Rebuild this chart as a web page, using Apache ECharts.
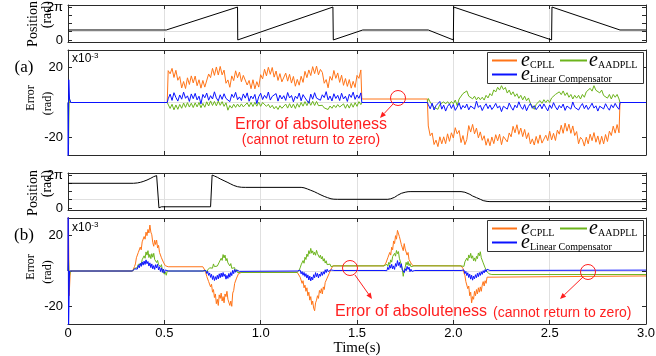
<!DOCTYPE html>
<html><head><meta charset="utf-8">
<script src="https://cdn.jsdelivr.net/npm/echarts@6/dist/echarts.min.js"></script>
<style>html,body{margin:0;padding:0;background:#fff}#c{width:656px;height:356px}</style>
</head><body><div id="c"></div>
<script>
const PI = Math.PI;
// ---------- axis ticks / labels ----------
const xTickValues = [0, 0.5, 1, 1.5, 2, 2.5, 3];
const posTickValues = [0, PI / 2, PI, 1.5 * PI, 2 * PI];
const posLabelValues = [0, 2 * PI];
const errTickValues = [-20, 0, 20];
const errLabelValues = [-20, 20];
const legendNames = ['CPLL', 'AADPLL', 'Linear Compensator'];

// ---------- position traces (rad) ----------
const posA = [[0,1.9],[0.51,1.9],[0.88,6.283],[0.881,0],[1.375,6.283],[1.377,0],[1.53,1.9],[1.87,1.9],[2.0,0],[2.002,6.283],[2.51,0],[2.512,6.283],[2.865,1.9],[3,1.9]];
const posB = [[0,4.71],[0.34,4.71],[0.36,4.78],[0.375,4.89],[0.39,5.05],[0.41,5.33],[0.43,5.68],[0.444,5.97],[0.46,6.18],[0.47,6.283],[0.472,0.02],[0.478,0.05],[0.485,0.22],[0.74,0.22],[0.744,0.02],[0.748,6.283],[0.76,6.1],[0.776,5.84],[0.79,5.55],[0.81,5.2],[0.83,4.85],[0.845,4.57],[0.86,4.3],[0.88,4.06],[0.90,3.95],[0.92,3.93],[1.21,3.93],[1.225,3.85],[1.243,3.62],[1.26,3.37],[1.278,3.11],[1.295,2.8],[1.313,2.48],[1.33,2.2],[1.347,1.97],[1.365,1.75],[1.38,1.67],[1.40,1.65],[1.66,1.65],[1.675,1.75],[1.695,2.03],[1.71,2.4],[1.73,2.79],[1.75,3.0],[1.765,3.1],[1.78,3.12],[2.04,3.12],[2.06,3.0],[2.086,2.6],[2.10,2.28],[2.12,1.97],[2.14,1.65],[2.155,1.40],[2.175,1.25],[2.19,1.21],[3,1.21]];

// ---------- error (a), x1e-3 rad: key points + noisy runs ----------
const aCpllKeys = [[0,0],[0.515,0],[1.525,2],[1.865,2],[2.865,0],[3,0]];
const aAadKeys = [[0,0],[0.003,-24],[0.006,3],[0.012,0],[0.515,0],[1.525,0],[1.865,0],[2.865,0],[3,0]];
const aLcKeys = [[0,0],[0.001,-32],[0.004,13],[0.008,2],[0.015,0],[0.515,0],[1.525,0],[1.865,0],[2.865,0],[3,0]];
// run 1: t = 0.52 .. 1.52 (step 0.01)
const aCpll1 = [18.2,16.4,19.5,14.3,18.4,12.7,14.8,8.3,12.0,8.0,14.1,10.3,15.2,11.2,15.1,9.6,13.0,8.2,12.6,8.8,9.9,16.3,14.2,19.5,15.5,20.3,15.7,20.6,15.8,18.5,11.0,12.9,8.7,15.2,12.5,18.1,14.1,17.4,11.9,15.5,14.7,10.0,12.6,7.9,13.0,7.8,11.9,8.8,15.9,13.5,19.0,15.2,20.1,16.1,20.0,14.5,18.0,12.6,16.5,11.8,11.9,16.8,12.2,16.1,11.1,14.9,9.3,13.2,9.9,15.0,11.5,17.8,14.2,18.6,15.4,20.5,16.5,20.8,15.8,18.9,17.2,11.0,13.1,8.4,14.9,12.7,18.3,13.8,16.9,11.5,15.6,9.8,13.7,9.2,13.1,8.2,12.1,8.6,15.5,13.8,18.6];
const aAad1 = [-0.2,-3.4,-1.0,-4.2,-1.4,-3.9,-1.1,-3.3,-0.3,-2.8,-0.1,-2.6,-0.4,-2.9,-0.2,-2.5,0.0,-3.0,-0.5,-2.7,0.4,-2.0,0.9,-1.7,0.6,-1.9,0.8,-1.6,0.5,-2.2,-0.2,-4.4,-1.7,-3.2,-1.0,-2.8,-0.9,-2.6,-0.8,-2.5,-2.5,-0.2,-2.4,0.0,-2.3,0.1,-2.1,0.2,-2.2,0.0,-0.6,-2.2,-1.0,-3.0,-1.6,-3.6,-2.2,-4.0,-1.8,-3.3,-3.5,-0.9,-3.2,-0.7,-3.1,-0.9,-3.4,-0.6,-2.7,0.0,-2.1,0.5,-1.8,0.8,-1.6,0.7,-1.7,0.6,-1.8,-0.7,-1.6,-3.1,-2.3,-4.0,-2.0,-3.3,-1.5,-2.9,-1.2,-2.6,-3.0,-0.8,-3.3,-1.0,-3.2,-0.5,-2.7,-0.1,-2.2,0.5,-1.2];
const aLc1 = [2.1,4.8,1.2,5.6,2.9,0.8,4.3,1.9,5.9,2.4,3.8,0.6,4.9,2.2,5.2,1.5,3.6,-0.8,4.6,2.7,5.4,1.3,3.9,2.0,6.1,2.6,0.9,4.4,1.8,5.0,2.3,3.4,0.5,4.7,2.8,5.8,1.6,3.2,1.1,4.9,2.5,5.5,0.7,3.7,2.1,4.6,-0.6,3.3,5.3,1.7,4.1,2.4,6.0,1.4,3.5,2.9,5.1,0.8,4.2,2.0,3.9,1.2,5.7,2.6,4.0,0.4,3.6,2.2,5.4,1.0,4.5,2.7,3.3,-0.4,4.8,1.9,5.6,2.5,3.1,1.3,4.4,2.8,6.2,1.5,3.7,0.9,5.0,2.3,4.1,1.1,5.3,2.0,3.6,0.6,4.7,2.9,5.9,1.8,4.3,2.4,5.5];
// run 2: t = 1.87 .. 2.86 (step 0.01)
const aCpll2 = [-13.4,-19.0,-17.4,-24.0,-21.5,-25.2,-19.6,-23.6,-19.6,-23.5,-17.9,-22.2,-17.3,-20.3,-14.4,-17.9,-16.0,-22.9,-18.9,-24.1,-21.1,-13.2,-16.9,-12.5,-17.9,-14.6,-20.2,-16.8,-21.6,-19.0,-24.4,-20.6,-24.7,-19.7,-23.5,-18.4,-21.9,-18.1,-24.1,-19.4,-19.3,-22.5,-17.4,-19.6,-13.6,-17.3,-12.7,-18.2,-14.6,-19.5,-15.4,-20.7,-17.3,-23.7,-20.8,-24.3,-19.4,-23.4,-18.5,-23.2,-23.5,-18.7,-21.8,-16.4,-21.4,-17.6,-21.7,-15.8,-18.1,-13.0,-17.6,-11.8,-16.4,-12.4,-17.6,-13.4,-18.9,-16.6,-23.6,-19.9,-21.2,-24.9,-19.8,-23.6,-18.1,-21.8,-17.2,-22.7,-19.1,-23.9,-19.3,-23.7,-18.3,-22.3,-16.4,-18.9,-13.5,-17.5,-12.6,-17.3];
const aAad2 = [2.3,0.2,0.9,-2.8,-2.7,-3.9,-1.1,-1.9,0.4,-0.8,0.5,-0.9,0.6,-0.7,1.4,-1.8,2.0,1.6,5.1,4.0,6.6,3.6,4.4,2.1,3.6,1.5,3.1,1.6,3.0,1.4,4.1,2.6,5.1,3.9,7.2,6.0,8.7,7.1,9.6,7.4,8.6,5.4,7.1,4.4,6.1,3.5,5.0,2.4,4.1,1.5,3.6,1.0,2.6,-0.5,0.1,-3.9,-1.0,-1.5,1.1,-0.5,1.6,0.0,1.5,0.0,2.6,1.5,4.6,3.5,6.1,4.5,6.6,4.0,5.6,3.0,4.6,2.0,4.1,2.5,4.1,2.0,4.6,3.0,6.1,5.0,8.1,6.5,9.6,7.0,8.1,5.5,7.1,4.0,5.1,2.5,4.6,2.0,4.6,3.0,4.6,2.0];
const aLc2 = [-1.2,-3.6,-0.4,-4.3,-1.8,-2.9,0.6,-3.8,-1.5,-4.9,-2.2,-0.8,-3.4,-1.1,-4.5,-2.6,-0.2,-3.9,-1.7,-3.1,-0.9,-4.2,-2.0,-1.3,-3.7,0.8,-2.8,-1.6,-4.6,-2.3,-0.7,-3.5,-1.4,-4.0,-2.5,-0.5,-3.2,-1.9,-5.2,-2.1,-1.0,-3.8,-0.3,-2.7,-4.4,-1.5,-3.0,0.4,-2.4,-3.9,-1.2,-4.7,-2.2,-0.6,-3.3,-1.8,-4.1,-2.6,-1.1,-3.6,-0.8,-2.9,-4.8,-1.4,-3.4,-0.1,-2.5,-4.2,-1.7,-3.1,-0.9,-4.5,-2.0,-1.3,-3.8,0.3,-2.7,-1.6,-4.3,-2.2,-0.6,-3.5,-1.5,-4.0,-2.4,-0.4,-3.2,-1.9,-4.9,-2.1,-1.0,-3.7,-0.7,-2.8,-4.4,-1.3,-3.0,-0.5,-2.6,-3.9];

// ---------- error (b), x1e-3 rad ----------
const bCpllKeys = [[0,0],[0.002,32],[0.006,-14],[0.012,0],[0.335,0],[0.52,2.4],[0.70,2.4],[0.90,-0.8],[1.19,-0.8],[1.38,2.9],[1.64,2.9],[1.80,2.9],[2.04,2.9],[2.20,-2.8],[3,-2.8]];
const bAadKeys = [[0,0],[0.003,6],[0.006,-4],[0.012,0],[0.335,0],[0.52,0],[0.70,0],[0.90,-0.8],[1.19,-0.8],[1.38,2.9],[1.64,2.9],[1.80,2.9],[2.04,2.9],[2.20,-2],[3,-2]];
const bLcKeys = [[0,0],[0.001,32],[0.003,-32],[0.008,0],[0.335,0],[0.52,0],[0.70,0],[0.90,0],[1.19,0],[1.38,0.3],[1.64,0.3],[1.80,0.3],[2.04,0.3],[2.20,0.5],[3,0.5]];
// runs at step 0.005, starting at 0.340, 0.705, 1.195, 1.645, 2.045
const bCpll1 = [0.5,2.5,4.0,7.5,6.5,10.5,9.5,13.5,12.0,16.5,15.5,19.5,18.0,22.0,20.0,23.5,21.5,26.0,22.0,20.5,16.0,14.0,17.5,15.0,17.5,13.0,14.5,10.5,11.5,7.5,8.0,5.0,5.5,3.0,3.5,2.4];
const bAad1 = [0.2,1.5,0.8,2.6,1.9,3.8,2.9,4.6,3.5,6.4,5.8,8.6,7.2,10.8,9.0,11.5,7.6,9.4,7.0,9.8,7.8,10.0,6.5,7.4,4.8,6.0,3.6,4.5,2.4,3.6,0.5,1.2,-1.8,-0.6,-2.4,0.0];
const bLc1 = [0.1,1.2,0.4,2.3,1.1,3.2,1.8,4.4,2.6,5.1,3.3,5.6,3.7,6.3,4.1,5.4,2.8,4.6,1.9,4.0,1.2,3.1,0.9,3.6,1.7,3.8,0.6,2.4,-0.3,1.8,-0.8,1.1,-1.2,0.6,-0.4,0.0];
const bCpll2 = [2.0,0.5,-1.0,-3.0,-2.5,-6.0,-5.0,-9.0,-7.5,-12.0,-10.5,-15.0,-13.0,-18.5,-16.0,-19.5,-13.5,-15.5,-12.5,-17.0,-14.5,-18.0,-13.0,-14.5,-11.5,-16.0,-15.0,-19.5,-17.0,-20.0,-12.5,-11.0,-7.0,-8.0,-4.0,-4.5,-1.5,-2.0,-0.8];
const bAad2 = [0.0,-0.8,0.4,-1.2,0.6,-0.5,1.8,0.9,2.7,1.6,4.0,2.5,3.4,1.4,2.8,2.2,5.0,4.1,7.2,6.0,9.3,7.4,9.0,5.8,7.1,4.6,5.4,2.9,4.2,1.5,2.6,0.8,1.9,-0.6,0.7,-0.9,0.2,-0.7,-0.8];
const bLc2 = [0.0,-0.6,0.3,-1.4,-0.2,-2.5,-1.1,-3.6,-1.9,-4.8,-2.7,-5.4,-3.2,-4.9,-2.4,-4.5,-1.6,-3.8,-1.2,-3.3,-0.9,-3.0,-1.8,-4.6,-2.5,-4.2,-1.4,-3.5,-0.8,-2.6,0.4,-1.5,0.9,-0.7,0.6,-0.3,0.4,-0.2,0.0];
const bCpll3 = [-0.8,-1.5,-3.5,-2.5,-7.0,-5.5,-9.5,-8.0,-11.5,-9.5,-14.0,-12.0,-16.5,-14.5,-19.0,-17.0,-21.0,-22.5,-18.0,-16.5,-14.0,-15.5,-11.0,-12.5,-10.0,-13.0,-9.0,-10.5,-6.5,-7.5,-4.0,-4.5,-1.5,-1.0,1.0,1.5,2.9];
const bAad3 = [-0.8,0.6,1.8,3.5,2.6,5.9,4.4,7.8,6.5,9.6,8.2,11.5,9.8,12.8,10.1,11.4,9.2,10.6,8.9,11.7,9.8,10.9,7.6,9.0,6.8,8.2,5.6,7.0,4.5,5.8,3.6,4.7,2.8,3.9,2.5,3.4,2.9];
const bLc3 = [0.0,-0.9,0.5,-1.6,-0.3,-2.4,-0.8,-3.1,-1.5,-4.0,-2.2,-5.1,-2.9,-5.6,-3.4,-5.0,-2.1,-3.8,-0.9,-3.2,-1.4,-3.9,-1.7,-3.0,-0.6,-2.5,-0.4,-1.8,0.7,-0.9,1.0,-0.3,0.8,0.0,0.6,0.2,0.3];
const bCpll4 = [3.0,4.5,3.8,7.5,6.5,10.5,9.0,13.5,12.0,17.0,15.5,20.0,18.0,23.0,24.0,19.5,20.5,15.0,14.0,11.5,15.5,12.5,13.5,9.0,10.5,6.5,7.5,4.5,5.0,3.0,2.9];
const bAad4 = [2.9,2.2,3.8,2.6,4.9,3.7,6.3,5.0,8.2,7.1,10.0,8.4,11.6,9.8,11.0,7.2,8.1,3.5,1.2,-3.0,0.5,2.1,4.9,3.3,5.4,3.0,4.2,2.4,3.5,2.6,2.9];
const bLc4 = [0.3,1.4,0.2,2.1,0.8,3.3,1.6,3.8,1.2,2.9,0.9,4.2,2.6,5.9,3.1,4.9,2.0,4.1,0.7,1.8,-0.9,1.3,0.1,2.6,0.9,2.2,-0.4,1.0,-0.2,0.6,0.3];
const bCpll5 = [2.9,1.5,-1.0,-2.5,-6.0,-5.0,-10.0,-8.5,-14.0,-12.0,-18.0,-14.5,-16.0,-11.5,-14.0,-10.5,-13.0,-9.5,-12.0,-9.0,-11.5,-8.0,-6.0,-8.5,-5.5,-7.0,-3.5,-4.5,-2.5,-3.5,-2.8];
const bAad5 = [2.9,3.8,2.6,5.2,4.1,7.3,5.9,9.1,7.4,10.0,7.2,8.6,5.8,7.4,5.5,8.3,7.0,10.2,8.6,10.9,7.5,7.8,4.6,5.3,1.8,2.6,-0.4,0.5,-1.6,-0.9,-2.0];
const bLc5 = [0.3,-0.5,0.6,-1.5,-0.2,-2.6,-1.0,-3.7,-1.8,-4.6,-2.4,-5.2,-2.9,-4.4,-2.1,-3.8,-1.3,-3.2,-0.9,-2.5,-0.4,-1.9,0.2,-1.1,0.8,-0.5,1.0,0.0,0.9,0.3,0.5];

// ---------- helpers ----------
function seg(t0, dt, vals) { return vals.map((v, i) => [Math.round((t0 + i * dt) * 10000) / 10000, v]); }
function build(keys, runs) {
  let out = keys.slice();
  runs.forEach(r => { out = out.concat(seg(r[0], r[1], r[2])); });
  return out.sort((a, b) => a[0] - b[0]);
}
const bStarts = [0.340, 0.705, 1.195, 1.645, 2.045];
const dataA = {
  CPLL: build(aCpllKeys, [[0.52, 0.01, aCpll1], [1.87, 0.01, aCpll2]]),
  AADPLL: build(aAadKeys, [[0.52, 0.01, aAad1], [1.87, 0.01, aAad2]]),
  LC: build(aLcKeys, [[0.52, 0.01, aLc1], [1.87, 0.01, aLc2]])
};
const dataB = {
  CPLL: build(bCpllKeys, [bCpll1, bCpll2, bCpll3, bCpll4, bCpll5].map((a, i) => [bStarts[i], 0.005, a])),
  AADPLL: build(bAadKeys, [bAad1, bAad2, bAad3, bAad4, bAad5].map((a, i) => [bStarts[i], 0.005, a])),
  LC: build(bLcKeys, [bLc1, bLc2, bLc3, bLc4, bLc5].map((a, i) => [bStarts[i], 0.005, a]))
};

const COLORS = { CPLL: '#FF7418', AADPLL: '#6CB41C', LC: '#0A12FF' };
const AX = '#2a2a2a', GRIDC = '#e0e0e0', T = 'rgba(0,0,0,0)';
const RED = '#FF1F1F';
const SANS = 'Liberation Sans', SERIF = 'Liberation Serif';
const GRIDS = [{ top: 5, height: 37, kind: 'pos' }, { top: 50, height: 105, kind: 'err' }, { top: 173, height: 37, kind: 'pos' }, { top: 218, height: 106, kind: 'err' }];

const near = (a, b) => Math.abs(a - b) < 1e-6;
function xAxisFor(i, pos) {
  const bottom = pos === 'bottom';
  return {
    type: 'value', gridIndex: i, position: pos, min: 0, max: 3, interval: 0.5,
    axisLine: { show: true, onZero: false, lineStyle: { color: AX, width: 1 } },
    axisTick: { show: true, inside: true, length: 4, lineStyle: { color: AX } },
    axisLabel: { show: bottom && i === 3, margin: 3, color: '#000', fontFamily: SANS, fontSize: 13,
      formatter: v => { const t = xTickValues.find(x => near(x, v)); return t === undefined ? '' : (t === 0 ? '0' : t.toFixed(1)); } },
    splitLine: { show: bottom, lineStyle: { color: GRIDC, width: 1 } },
    name: (bottom && i === 3) ? 'Time(s)' : '', nameLocation: 'middle', nameGap: 13,
    nameTextStyle: { fontFamily: SERIF, fontSize: 15, color: '#000' }
  };
}
function yAxisFor(i, pos) {
  const left = pos === 'left';
  const isPos = GRIDS[i].kind === 'pos';
  const base = isPos
    ? { min: -PI / 8, max: 2 * PI + PI / 8, interval: PI / 8 }
    : { min: -30, max: 30, interval: 10 };
  return Object.assign({
    type: 'value', gridIndex: i, position: pos,
    axisLine: { show: true, onZero: false, lineStyle: { color: AX, width: 1 } },
    axisTick: { show: true, inside: true, length: 4, lineStyle: { color: AX }, customValues: isPos ? posTickValues : errTickValues },
    axisLabel: { show: left, margin: 5, color: '#000', fontFamily: SANS, fontSize: 13,
      customValues: isPos ? posLabelValues : errLabelValues,
      formatter: v => {
        if (isPos) { if (near(v, 0)) return '0'; if (near(v, 2 * PI)) return '2π'; return ''; }
        return errLabelValues.some(x => near(x, v)) ? String(Math.round(v)) : '';
      } },
    splitLine: { show: left, showMinLine: true, showMaxLine: true, lineStyle: { width: 1, color: isPos ? [T, GRIDC, T, T] : [T, GRIDC] } }
  }, base);
}

const series = [];
series.push({ type: 'line', name: 'posA', xAxisIndex: 0, yAxisIndex: 0, data: posA, symbol: 'none', lineStyle: { color: '#000', width: 1 }, z: 3 });
series.push({ type: 'line', name: 'posB', xAxisIndex: 2, yAxisIndex: 2, data: posB, symbol: 'none', lineStyle: { color: '#000', width: 1 }, z: 3 });
['CPLL', 'AADPLL', 'LC'].forEach(n => {
  series.push({ type: 'line', name: n, xAxisIndex: 1, yAxisIndex: 1, data: dataA[n], symbol: 'none', lineStyle: { color: COLORS[n], width: 1 }, itemStyle: { color: COLORS[n] } });
  series.push({ type: 'line', name: n, xAxisIndex: 3, yAxisIndex: 3, data: dataB[n], symbol: 'none', lineStyle: { color: COLORS[n], width: 1 }, itemStyle: { color: COLORS[n] } });
});

function txt(x, y, text, size, family, opts) {
  return Object.assign({ type: 'text', x: x, y: y, z: 100, style: Object.assign({ text: text, fontSize: size, fontFamily: family, fill: '#000', align: 'center', verticalAlign: 'middle' }, (opts && opts.style) || {}) }, (opts && opts.el) || {});
}
function arrow(x1, y1, x2, y2) {
  const a = Math.atan2(y2 - y1, x2 - x1), L = 6, W = 2.6;
  const bx = x2 - L * Math.cos(a), by = y2 - L * Math.sin(a);
  return [
    { type: 'line', z: 100, shape: { x1: x1, y1: y1, x2: bx, y2: by }, style: { stroke: RED, lineWidth: 1 } },
    { type: 'polygon', z: 100, shape: { points: [[x2, y2], [bx + W * Math.sin(a), by - W * Math.cos(a)], [bx - W * Math.sin(a), by + W * Math.cos(a)]] }, style: { fill: RED } }
  ];
}
function circ(cx, cy) { return { type: 'circle', z: 100, shape: { cx: cx, cy: cy, r: 7.5 }, style: { fill: 'none', stroke: RED, lineWidth: 1 } }; }
function expo(x, y) {
  return { type: 'text', x: x, y: y, z: 100, style: { text: '{b|x10}{s|-3}', rich: {
    b: { fontSize: 12, fontFamily: SANS, fill: '#000', lineHeight: 13 },
    s: { fontSize: 8, fontFamily: SANS, fill: '#000', lineHeight: 8, verticalAlign: 'top' } } } };
}
// legend box drawn as graphic: box, line keys, italic "e" + subscript names
function legendBox(y0) {
  const r1 = y0 + 8.5, r2 = y0 + 22.5;
  const keyLine = (x1, x2, y, c) => ({ type: 'line', z: 96, shape: { x1: x1, y1: y, x2: x2, y2: y }, style: { stroke: c, lineWidth: 2 } });
  const eChar = (x, y) => ({ type: 'text', x: x, y: y + 0.5, z: 97, style: { text: 'e', fontSize: 20, fontStyle: 'italic', fontFamily: SERIF, fill: '#000', align: 'left', verticalAlign: 'middle' } });
  const sub = (x, y, s) => ({ type: 'text', x: x, y: y + 4.5, z: 97, style: { text: s, fontSize: 10, fontFamily: SERIF, fill: '#000', align: 'left', verticalAlign: 'middle' } });
  return [
    { type: 'rect', z: 95, shape: { x: 487.5, y: y0 + 0.5, width: 156, height: 31 }, style: { fill: '#fff', stroke: '#333', lineWidth: 1 } },
    keyLine(492, 517, r1, COLORS.CPLL), eChar(521, r1), sub(530, r1, legendNames[0]),
    keyLine(560, 587, r1, COLORS.AADPLL), eChar(589, r1), sub(598, r1, legendNames[1]),
    keyLine(492, 517, r2, COLORS.LC), eChar(521, r2), sub(530, r2, legendNames[2])
  ];
}
const rot = { el: { rotation: PI / 2 }, style: { align: 'right' } };
const graphics = [
  txt(33, 1, 'Position', 14, SERIF, rot), txt(47.5, 1, '(rad)', 14, SERIF, rot),
  txt(33, 170, 'Position', 14, SERIF, rot), txt(47.5, 170, '(rad)', 14, SERIF, rot),
  txt(31, 98, 'Error', 12, SERIF, { el: { rotation: PI / 2 } }), txt(48, 103.5, '(rad)', 12, SERIF, { el: { rotation: PI / 2 } }),
  txt(31, 267, 'Error', 12, SERIF, { el: { rotation: PI / 2 } }), txt(48, 272, '(rad)', 12, SERIF, { el: { rotation: PI / 2 } }),
  txt(24, 68, '(a)', 17, SERIF), txt(24, 236, '(b)', 17, SERIF),
  expo(72, 52), expo(72, 221),
  txt(311, 125, 'Error of absoluteness', 16, SANS, { style: { fill: RED } }),
  txt(311, 140, '(cannot return to zero)', 14, SANS, { style: { fill: RED } }),
  txt(335, 312, 'Error of absoluteness', 16, SANS, { style: { fill: RED, align: 'left' } }),
  txt(493, 313, '(cannot return to zero)', 14, SANS, { style: { fill: RED, align: 'left' } }),
  circ(398, 98), circ(350, 268), circ(588, 272)
].concat(arrow(393, 104, 380, 118), arrow(355, 275, 372, 299), arrow(583, 277, 560, 299), legendBox(52), legendBox(220));

const option = {
  animation: false,
  backgroundColor: '#fff',
  grid: GRIDS.map(g => ({ left: 68, right: 10, top: g.top, height: g.height, containLabel: false, outerBoundsMode: 'none', show: false })),
  xAxis: [0, 1, 2, 3].map(i => xAxisFor(i, 'bottom')).concat([0, 1, 2, 3].map(i => xAxisFor(i, 'top'))),
  yAxis: [0, 1, 2, 3].map(i => yAxisFor(i, 'left')).concat([0, 1, 2, 3].map(i => yAxisFor(i, 'right'))),
  series: series,
  graphic: graphics
};
const chart = echarts.init(document.getElementById('c'), null, { renderer: 'canvas', width: 656, height: 356 });
chart.setOption(option);
</script>
</body></html>
